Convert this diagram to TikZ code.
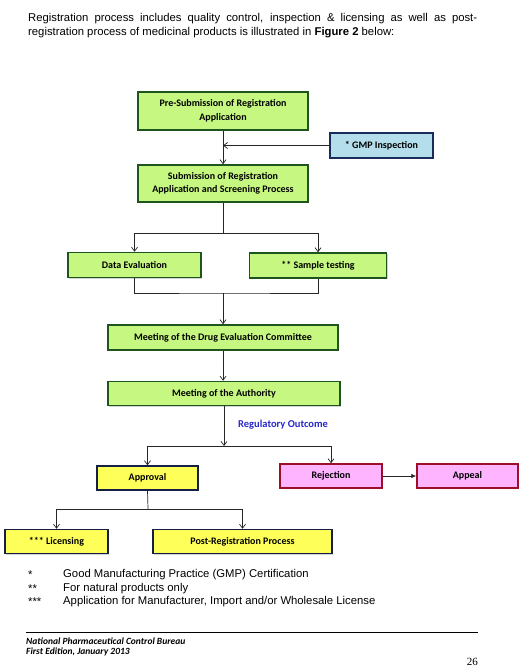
\documentclass[tikz,border=0pt]{standalone}
\usepackage{fontspec}
\setmainfont{Liberation Sans}
\newfontfamily\calfont{Carlito}
\newfontfamily\serifnum{Liberation Serif}
\usetikzlibrary{arrows.meta,shadows}
\definecolor{gfill}{RGB}{198,247,128}
\definecolor{gdraw}{RGB}{30,85,30}
\definecolor{bfill}{RGB}{180,222,235}
\definecolor{bdraw}{RGB}{25,45,90}
\definecolor{yfill}{RGB}{255,255,90}
\definecolor{ydraw}{RGB}{20,30,70}
\definecolor{pfill}{RGB}{255,180,255}
\definecolor{pdraw}{RGB}{155,15,45}
\definecolor{outblue}{RGB}{40,40,200}
\tikzset{
  boxbase/.style={rectangle, line width=1.5pt, inner sep=2pt, align=center,
    font=\calfont\bfseries\fontsize{10}{13.5}\selectfont,
    drop shadow={shadow xshift=1.2pt, shadow yshift=-1.2pt, opacity=0.35}},
  gbox/.style={boxbase, fill=gfill, draw=gdraw},
  bbox/.style={boxbase, fill=bfill, draw=bdraw},
  ybox/.style={boxbase, fill=yfill, draw=ydraw},
  pbox/.style={boxbase, fill=pfill, draw=pdraw},
  conn/.style={line width=0.7pt, draw=black!85},
  arr/.style={conn, -{Straight Barb[length=4pt,width=6pt]}},
  farr/.style={conn, -{Latex[length=5pt,width=4.5pt]}},
  bodytext/.style={font=\fontsize{11.3}{13}\selectfont, inner sep=0pt},
  foottext/.style={font=\calfont\bfseries\itshape\fontsize{9.5}{10}\selectfont, anchor=west, inner sep=0pt},
}
\begin{document}
\begin{tikzpicture}[x=1pt,y=-1pt]
\useasboundingbox (0,0) rectangle (525,668);

% header
\node[bodytext, anchor=west] (h1) at (28,19) {\makebox[449pt][s]{Registration process includes quality control, inspection \& licensing as well as post-}};
\node[bodytext, anchor=west] (h2) at (28,33) {registration process of medicinal products is illustrated in \textbf{Figure 2} below:};

% boxes
\node[gbox, minimum width=170pt, minimum height=38pt] (pre) at (223,111) {Pre-Submission of Registration\\Application};
\node[bbox, minimum width=103pt, minimum height=25pt] (gmp) at (381.5,145.5) {* GMP Inspection};
\node[gbox, minimum width=170pt, minimum height=37pt] (sub) at (223,183.5) {Submission of Registration\\Application and Screening Process};
\node[gbox, minimum width=133pt, minimum height=25pt] (data) at (134.5,265) {Data Evaluation};
\node[gbox, minimum width=137pt, minimum height=25pt] (sample) at (318,265.5) {** Sample testing};
\node[gbox, minimum width=230pt, minimum height=25pt] (dec) at (223,337.5) {Meeting of the Drug Evaluation Committee};
\node[gbox, minimum width=232pt, minimum height=24pt] (auth) at (224,393.5) {Meeting of the Authority};
\node[font=\calfont\bfseries\fontsize{10.5}{12}\selectfont, text=outblue, inner sep=0pt] (out) at (283,425) {Regulatory Outcome};
\node[ybox, minimum width=101pt, minimum height=24pt] (appr) at (147.5,478) {Approval};
\node[pbox, minimum width=102pt, minimum height=24pt] (rej) at (331,476) {Rejection};
\node[pbox, minimum width=101pt, minimum height=24pt] (appeal) at (467.5,476) {Appeal};
\node[ybox, minimum width=103pt, minimum height=24pt] (lic) at (56.5,541.5) {*** Licensing};
\node[ybox, minimum width=179pt, minimum height=24pt] (post) at (242.5,541.5) {Post-Registration Process};

% connectors
\draw[arr] (pre.south) -- (sub.north);
\draw[arr] (gmp.west) -- (pre.south |- gmp.west);

\coordinate (s1) at (223,233);
\draw[conn] (sub.south) -- (s1);
\draw[arr] (s1) -| (data.north);
\draw[arr] (s1) -| (sample.north);

\coordinate (j1) at (223,293);
\draw[conn] (data.south) |- (j1) -| (sample.south);
\draw[arr] (j1) -- (dec.north);

\draw[arr] (dec.south) -- (dec.south |- auth.north);

\coordinate (s2) at (224,446);
\draw[arr] (auth.south) -- (s2);
\draw[arr] (s2) -| (appr.north);
\draw[arr] (s2) -| (rej.north);

\draw[farr] (rej.east) -- (appeal.west);

\coordinate (s3) at (148,509);
\draw[conn] (appr.south) -- (s3);
\draw[arr] (s3) -| (lic.north);
\draw[arr] (s3) -| (post.north);

% footnotes
\node[bodytext, anchor=west] (f1s) at (28,575) {*};
\node[bodytext, anchor=west] (f1) at (63,575) {Good Manufacturing Practice (GMP) Certification};
\node[bodytext, anchor=west] (f2s) at (28,588.5) {**};
\node[bodytext, anchor=west] (f2) at (63,588.5) {For natural products only};
\node[bodytext, anchor=west] (f3s) at (28,602) {***};
\node[bodytext, anchor=west] (f3) at (63,602) {Application for Manufacturer, Import and/or Wholesale License};

% footer
\coordinate (fl) at (26,632);
\coordinate (fr) at (478,632);
\draw[line width=0.8pt] (fl) -- (fr);
\node[foottext] (ft1) at (26,641) {National Pharmaceutical Control Bureau};
\node[foottext] (ft2) at (26,652) {First Edition, January 2013};
\node[font=\serifnum\fontsize{11}{12}\selectfont, anchor=east, inner sep=0pt] (pg) at (478,662) {26};
\end{tikzpicture}
\end{document}
